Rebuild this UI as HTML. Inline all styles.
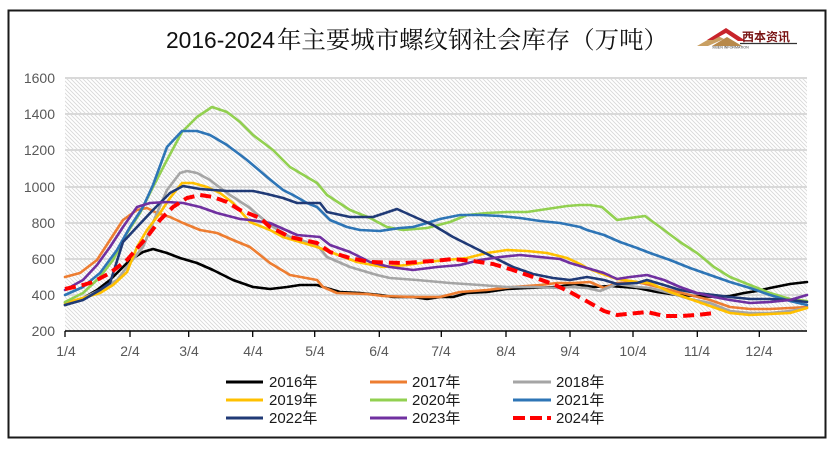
<!DOCTYPE html>
<html>
<head>
<meta charset="utf-8">
<style>
html,body{margin:0;padding:0;background:#fff;}
svg{display:block;}
</style>
</head>
<body>
<svg width="837" height="450" viewBox="0 0 837 450" xmlns="http://www.w3.org/2000/svg">
<defs>
<pattern id="hatch" patternUnits="userSpaceOnUse" width="4" height="4">
<path d="M-1,-1 L5,5 M-1,3 L1,5 M3,-1 L5,1" stroke="#d8d8d8" stroke-width="0.9"/>
</pattern>
</defs>
<rect width="837" height="450" fill="#fff"/>
<!-- outer box -->
<rect x="8.5" y="10.5" width="817" height="427" fill="#fff" stroke="#1a1a1a" stroke-width="2"/>

<!-- title -->
<text x="166" y="48" font-family="'Liberation Sans',sans-serif" font-size="23" fill="#111" textLength="109" lengthAdjust="spacingAndGlyphs">2016-2024</text>
<text x="277" y="48" font-family="'Noto Serif CJK SC','Liberation Serif',serif" font-size="24" fill="#111" textLength="391" lengthAdjust="spacingAndGlyphs">年主要城市螺纹钢社会库存（万吨）</text>

<!-- logo -->
<g>
<polygon points="697,46 716,35 724,39 708,46" fill="#c9a063"/>
<polygon points="712,46 727,37 742,46" fill="#b8894a"/>
<polygon points="707,40 726,28 746,41 738,41 726,33 713,40" fill="#c8242b"/>
<text x="742" y="41" font-family="'Noto Sans CJK SC',sans-serif" font-size="12" font-weight="bold" fill="#7a1515">西本资讯</text>
<line x1="740" y1="43.5" x2="797" y2="43.5" stroke="#333" stroke-width="1.2"/>
<text x="712" y="48.5" font-family="'Liberation Sans',sans-serif" font-size="3.6" fill="#333">XIBEN INFORMATION</text>
</g>

<!-- plot area -->
<rect x="65" y="78" width="742" height="253" fill="url(#hatch)"/>
<g stroke="#d9d9d9" stroke-width="2">
<line x1="65" y1="78" x2="807" y2="78"/>
<line x1="65" y1="114" x2="807" y2="114"/>
<line x1="65" y1="150" x2="807" y2="150"/>
<line x1="65" y1="187" x2="807" y2="187"/>
<line x1="65" y1="223" x2="807" y2="223"/>
<line x1="65" y1="259" x2="807" y2="259"/>
<line x1="65" y1="295" x2="807" y2="295"/>
</g>

<!-- y labels -->
<g font-family="'Liberation Sans',sans-serif" font-size="14" fill="#595959" text-anchor="end">
<text x="55" y="83">1600</text>
<text x="55" y="119">1400</text>
<text x="55" y="155">1200</text>
<text x="55" y="192">1000</text>
<text x="55" y="228">800</text>
<text x="55" y="264">600</text>
<text x="55" y="300">400</text>
<text x="55" y="336">200</text>
</g>

<!-- x axis -->
<line x1="65" y1="331" x2="807" y2="331" stroke="#000" stroke-width="1.5"/>
<g stroke="#000" stroke-width="1.3">
<line x1="65" y1="331" x2="65" y2="337"/>
<line x1="130" y1="331" x2="130" y2="337"/>
<line x1="188.7" y1="331" x2="188.7" y2="337"/>
<line x1="252.7" y1="331" x2="252.7" y2="337"/>
<line x1="314.7" y1="331" x2="314.7" y2="337"/>
<line x1="379.3" y1="331" x2="379.3" y2="337"/>
<line x1="441.3" y1="331" x2="441.3" y2="337"/>
<line x1="506" y1="331" x2="506" y2="337"/>
<line x1="570" y1="331" x2="570" y2="337"/>
<line x1="633" y1="331" x2="633" y2="337"/>
<line x1="697.3" y1="331" x2="697.3" y2="337"/>
<line x1="759.3" y1="331" x2="759.3" y2="337"/>
</g>
<g font-family="'Liberation Sans',sans-serif" font-size="14" fill="#595959" text-anchor="middle">
<text x="66" y="356">1/4</text>
<text x="130" y="356">2/4</text>
<text x="189" y="356">3/4</text>
<text x="253" y="356">4/4</text>
<text x="315" y="356">5/4</text>
<text x="379" y="356">6/4</text>
<text x="441" y="356">7/4</text>
<text x="506" y="356">8/4</text>
<text x="570" y="356">9/4</text>
<text x="633" y="356">10/4</text>
<text x="697" y="356">11/4</text>
<text x="759" y="356">12/4</text>
</g>

<!-- series -->
<g fill="none" stroke-width="2.6" stroke-linejoin="round" stroke-linecap="round">
<polyline stroke="#000000" points="65,305 80,300 97,290 110,280 130,260 143,252 153,249 167,253 180,258 197,263 213,270 233,280 253,287 270,289 287,287 300,285 317,285 323,287 340,292 360,293 380,295 393,297 413,297 427,299 440,297 453,297 467,293 487,292 507,289 527,288 557,287 574,284 594,287 610,286 637,288 657,292 677,295 697,296 717,297 730,296 744,293 757,291 770,288 790,284 807,282"/>
<polyline stroke="#ED7D31" points="65,277 80,273 97,260 110,240 123,220 137,210 147,208 157,213 170,217 183,223 200,230 217,233 233,240 250,247 270,263 290,275 317,280 323,287 337,293 367,294 383,296 413,297 440,297 460,292 487,290 513,287 540,285 557,283 574,283 590,282 604,288 617,283 637,282 650,285 670,290 690,295 710,300 730,307 750,309 770,309 790,308 807,307"/>
<polyline stroke="#A5A5A5" points="65,303 83,298 100,290 117,280 130,263 143,247 157,213 167,190 180,173 187,171 197,173 210,180 227,193 250,208 270,225 290,237 317,245 327,257 350,267 377,275 390,278 417,280 450,283 480,285 507,287 533,287 560,288 570,287 587,288 600,291 617,284 637,287 650,288 670,293 690,299 710,303 730,311 750,313 770,313 790,311 807,308"/>
<polyline stroke="#FFC000" points="65,303 83,298 100,293 113,285 127,272 137,247 147,230 160,213 170,198 182,183 193,183 207,187 220,193 233,203 250,222 270,230 283,237 317,247 333,253 357,262 383,267 407,265 427,262 447,260 467,258 487,253 507,250 527,251 547,253 567,258 580,264 587,268 600,273 617,279 637,282 650,283 670,292 690,299 710,306 730,313 750,315 770,314 790,313 807,308"/>
<polyline stroke="#92D050" points="65,302 83,293 100,277 113,260 127,233 140,213 153,187 167,160 182,132 197,117 212,107 227,112 240,122 253,135 273,150 290,167 317,183 327,195 350,210 370,218 387,227 403,230 427,228 450,222 467,215 487,213 507,212 527,212 547,209 567,206 580,205 590,205 602,207 617,220 630,218 645,216 664,230 680,242 697,253 714,267 730,277 750,285 770,293 790,299 807,301"/>
<polyline stroke="#2E75B6" points="65,295 83,287 100,273 117,250 130,227 143,207 153,185 167,147 182,131 197,131 210,135 227,145 247,160 267,177 283,190 293,195 307,203 317,207 330,220 347,227 360,230 380,231 400,228 413,227 427,223 440,219 460,215 480,215 500,216 520,218 540,221 560,223 580,227 587,230 604,235 620,242 637,248 650,253 670,260 690,268 710,275 730,282 750,288 770,295 790,301 807,305"/>
<polyline stroke="#203A76" points="65,305 83,300 100,290 110,283 123,242 137,227 153,210 170,193 183,186 200,189 227,191 253,191 267,194 283,198 297,203 320,203 327,212 350,217 373,217 397,209 417,218 433,225 453,237 473,247 493,257 513,267 533,274 553,278 570,280 587,277 604,280 617,284 637,283 647,280 664,285 680,290 697,293 714,295 730,297 750,299 770,299 790,300 807,302"/>
<polyline stroke="#7030A0" points="65,290 83,280 97,265 110,247 123,227 137,207 150,203 167,202 183,203 200,207 217,213 240,219 250,220 270,223 297,235 320,237 330,245 350,252 370,262 390,267 413,270 437,267 460,265 480,260 500,257 520,255 540,257 560,259 570,263 587,268 604,273 617,279 630,277 647,275 664,280 680,287 697,293 714,297 730,300 750,303 770,302 790,300 807,295"/>
<polyline stroke="#FF0000" stroke-width="4" stroke-dasharray="11 6" stroke-linecap="butt" points="65,289 83,285 93,282 110,273 127,260 147,237 160,220 173,207 187,198 200,195 213,197 227,202 240,210 260,218 270,227 290,237 317,243 330,252 350,258 370,262 403,263 433,261 453,259 473,261 493,264 513,270 533,277 553,284 570,292 590,303 604,311 617,315 637,313 647,312 664,316 680,316 697,315 714,313"/>
</g>

<!-- legend -->
<g stroke-width="3">
<line x1="226" y1="382" x2="263" y2="382" stroke="#000000"/>
<line x1="370" y1="382" x2="407" y2="382" stroke="#ED7D31"/>
<line x1="513" y1="382" x2="551" y2="382" stroke="#A5A5A5"/>
<line x1="226" y1="400" x2="263" y2="400" stroke="#FFC000"/>
<line x1="370" y1="400" x2="407" y2="400" stroke="#92D050"/>
<line x1="513" y1="400" x2="551" y2="400" stroke="#2E75B6"/>
<line x1="226" y1="418" x2="263" y2="418" stroke="#203A76"/>
<line x1="370" y1="418" x2="407" y2="418" stroke="#7030A0"/>
<line x1="513" y1="418" x2="551" y2="418" stroke="#FF0000" stroke-width="4" stroke-dasharray="12 5"/>
</g>
<g font-family="'Liberation Sans','Noto Sans CJK SC',sans-serif" font-size="15" fill="#1a1a1a">
<text x="269" y="387">2016年</text>
<text x="412" y="387">2017年</text>
<text x="556" y="387">2018年</text>
<text x="269" y="405">2019年</text>
<text x="412" y="405">2020年</text>
<text x="556" y="405">2021年</text>
<text x="269" y="423">2022年</text>
<text x="412" y="423">2023年</text>
<text x="556" y="423">2024年</text>
</g>
</svg>
</body>
</html>
